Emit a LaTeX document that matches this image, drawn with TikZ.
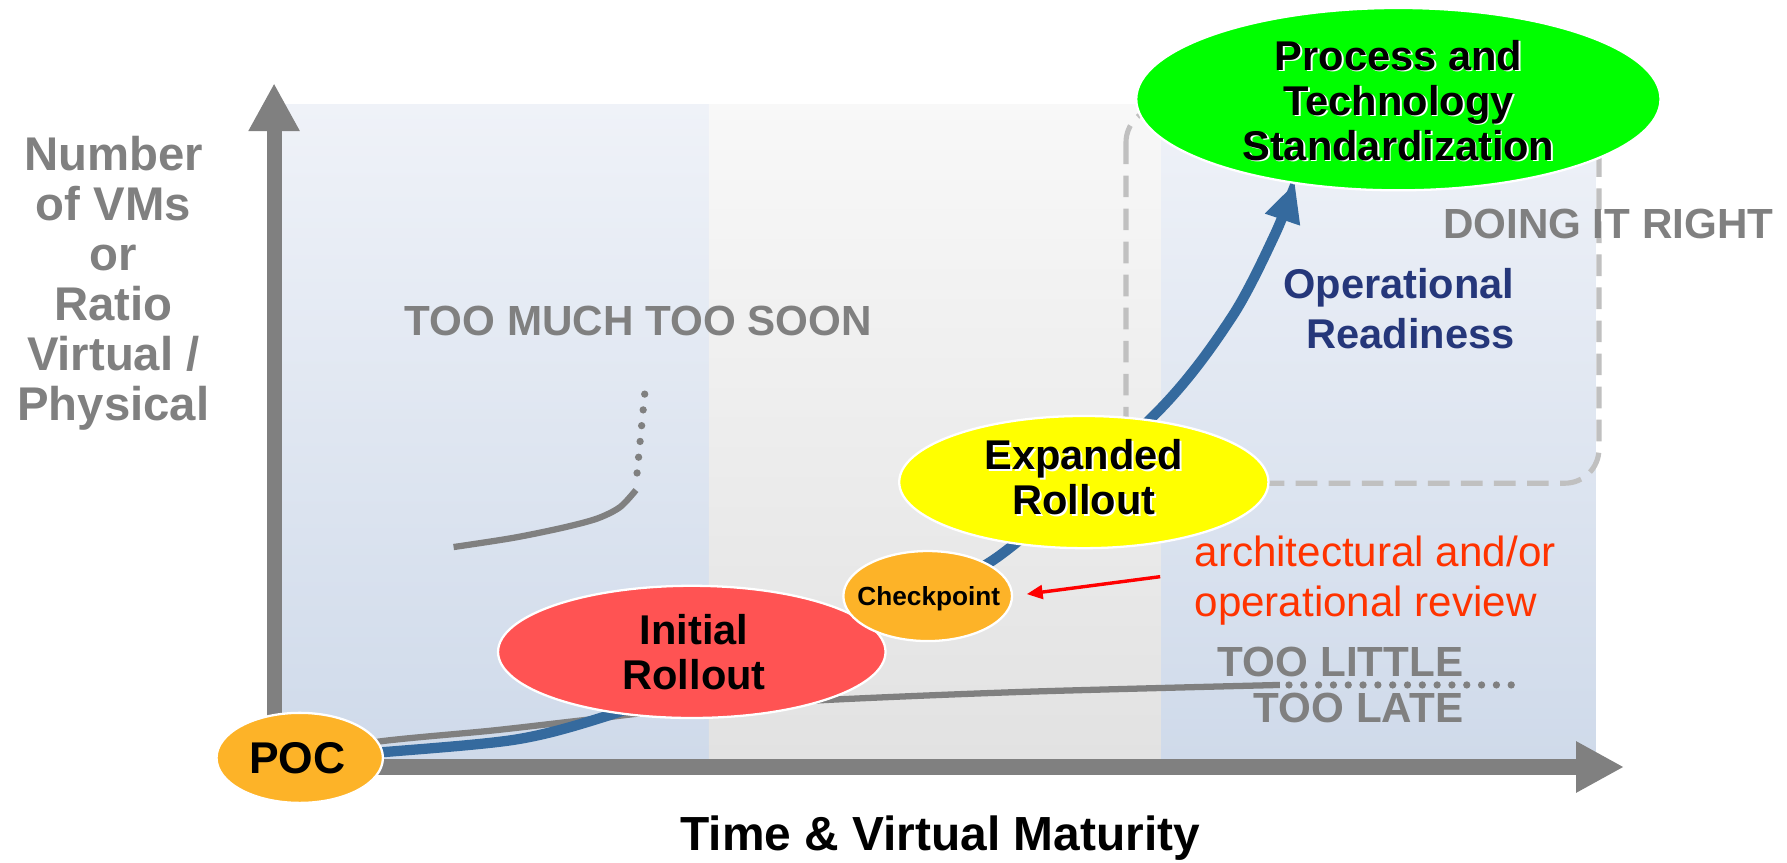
\documentclass[tikz,border=0pt]{standalone}
\usepackage{fontspec}
\setmainfont{Liberation Sans}
\usetikzlibrary{arrows.meta,shapes.geometric}
\definecolor{axgray}{HTML}{808080}
\definecolor{dashgray}{HTML}{C0C0C0}
\definecolor{pantop}{HTML}{EFF2F8}
\definecolor{panbot}{HTML}{CFDAEA}
\definecolor{midtop}{HTML}{F8F8F8}
\definecolor{midbot}{HTML}{E2E2E2}
\definecolor{pocorange}{HTML}{FDB328}
\definecolor{initred}{HTML}{FF5353}
\definecolor{expyellow}{HTML}{FFFF00}
\definecolor{stdgreen}{HTML}{00FF00}
\definecolor{arrowblue}{HTML}{356A9E}
\definecolor{opnavy}{HTML}{25377A}
\definecolor{revred}{HTML}{FF3300}
\definecolor{ptred}{HTML}{FF0000}
\newcommand\myfs[2]{\fontsize{#1pt}{#2pt}\selectfont}
\pgfdeclarelayer{bg}
\pgfdeclarelayer{mid}
\pgfsetlayers{bg,mid,main}
\begin{document}
\begin{tikzpicture}[x=1pt,y=-1pt,
  ell/.style={ellipse, draw=white, line width=2pt, inner sep=0pt, outer sep=0pt},
  elltxt/.style={inner sep=0pt, align=center, font=\bfseries\myfs{36.5}{39.5}},
  grayline/.style={draw=axgray, line width=5.5pt},
  dotline/.style={draw=axgray, line width=6.4pt, line cap=round, dash pattern=on 0pt off #1},
  blueline/.style={draw=arrowblue, line width=9pt, -{Triangle[width=30pt,length=34pt]}},
  axis/.style={draw=axgray, -{Triangle[width=42pt,length=42pt]}},
  dashbox/.style={draw=dashgray, line width=4.5pt, dash pattern=on 19pt off 10pt, rounded corners=30pt},
  graytxt/.style={text=axgray, font=\bfseries\myfs{37}{40.5}, inner sep=0pt},
  ylab/.style={text=axgray, font=\bfseries\myfs{41.5}{44}, align=center, inner sep=0pt},
  optxt/.style={text=opnavy, font=\bfseries\myfs{36.5}{43.5}, align=right, inner sep=0pt},
  revtxt/.style={text=revred, font=\myfs{37}{43.5}, align=left, inner sep=0pt},
  xlab/.style={text=black, font=\bfseries\myfs{42}{46}, inner sep=0pt},
  revarrow/.style={draw=ptred, line width=3pt, -{Triangle[width=12pt,length=14pt]}, shorten >=13pt}
]
\useasboundingbox (0,0) rectangle (1568,757);

% ellipses
\node[ell, fill=pocorange, minimum width=146pt, minimum height=79pt] (POC) at (263,665) {};
\node[ell, fill=initred, minimum width=340pt, minimum height=116pt] (IR) at (607,572) {};
\node[ell, fill=pocorange, minimum width=148pt, minimum height=79pt] (CP) at (814,523) {};
\node[ell, fill=expyellow, minimum width=324pt, minimum height=116pt] (ER) at (951,423) {};
\node[ell, fill=stdgreen, minimum width=460pt, minimum height=160pt] (G) at (1227,87) {};

% ellipse labels
\node[elltxt, font=\bfseries\myfs{39}{42}, anchor=base] (POCt) at (261,679) {POC};
\node[elltxt] (IRt) at (609,572) {Initial\\Rollout};
\node[elltxt, font=\bfseries\myfs{23}{26}, anchor=base] (CPt) at (815,531) {Checkpoint};
\node[elltxt, text=white] (ERs) at (952.6,420.6) {Expanded\\Rollout};
\node[elltxt] (ERt) at (951,419) {Expanded\\Rollout};
\node[elltxt, text=white] (Gs) at (1228.6,89.6) {Process and\\Technology\\Standardization};
\node[elltxt] (Gt) at (1227,88) {Process and\\Technology\\Standardization};

% free texts
\node[ylab, anchor=north] (ylabel) at (99.5,119) {Number\\of VMs\\or\\Ratio\\Virtual /\\Physical};
\node[graytxt, anchor=base] (tmts) at (560,294) {TOO MUCH TOO SOON};
\node[graytxt, anchor=base west] (dir) at (1266,209) {DOING IT RIGHT};
\node[graytxt, align=right, anchor=north east] (tltl) at (1284,567.5) {TOO LITTLE\\TOO LATE};
\node[optxt, anchor=north east] (opr) at (1329,235.5) {Operational\\Readiness};
\node[revtxt, anchor=north west] (rev) at (1048,470) {architectural and/or\\operational review};
\node[xlab, anchor=base] (xlabel) at (825,746) {Time \& Virtual Maturity};

\begin{pgfonlayer}{bg}
  \fill[white] (0,0) rectangle (1568,757);
  \shade[top color=pantop, bottom color=panbot] (247,92) rectangle (622,666);
  \shade[top color=midtop, bottom color=midbot] (622,92) rectangle (1019,666);
  \shade[top color=pantop, bottom color=panbot] (1019,92) rectangle (1400,666);
  \draw[dashbox] (988,95) rectangle (1403,424);
\end{pgfonlayer}

\begin{pgfonlayer}{mid}
  % too much too soon curve
  \draw[grayline] plot[smooth] coordinates {(398,480) (450,472) (494,463) (524,455) (544,445) (558,430)};
  \draw[dotline=13.9pt] (559,415) -- (567,332);
  % too little too late curve
  \draw[grayline] plot[smooth] coordinates {(POC.center) (330,651) (432,641) (511,632) (600,622) (729,614) (900,607) (1123,601)};
  \draw[dotline=13pt] (1131,601) -- (1339,601);
  % axes
  \coordinate (yb) at (240.5,680);
  \coordinate (yt) at (240.5,73);
  \draw[axis, line width=13pt] (yb) -- (yt);
  \coordinate (xl) at (234,673);
  \coordinate (xr) at (1425,673);
  \draw[axis, line width=14pt] (xl) -- (xr);
  % blue path
  \draw[blueline] plot[smooth] coordinates {(POC.center) (336,660) (452,649) (530,629) (640,590) (760,541) (875,489) (1017,360) (1081,278) (1119,205) (G.219)};
  % red arrow
  \coordinate (rv) at (1018,506);
  \draw[revarrow] (rv) -- (CP.east);
\end{pgfonlayer}
\end{tikzpicture}
\end{document}
